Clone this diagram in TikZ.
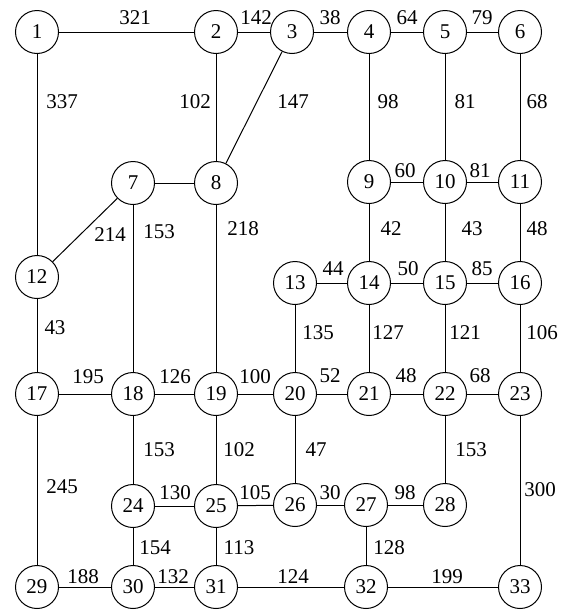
\documentclass[tikz,border=0pt]{standalone}
\usepackage{fontspec}
\setmainfont{Liberation Serif}
\begin{document}
\begin{tikzpicture}[x=1pt,y=-1pt,
  vtx/.style={circle,draw,line width=1pt,minimum size=43pt,inner sep=0pt,fill=white,font=\fontsize{21}{24}\selectfont},
  lab/.style={inner sep=0pt,font=\fontsize{21}{24}\selectfont},
  conn/.style={line width=1pt}]
\fill[white] (0,0) rectangle (568,611);
\useasboundingbox (0,0) rectangle (568,611);
% nodes
\node[vtx] (n1) at (37,32) {1};
\node[vtx] (n2) at (216,32) {2};
\node[vtx] (n3) at (292,32) {3};
\node[vtx] (n4) at (369,32) {4};
\node[vtx] (n5) at (445,32) {5};
\node[vtx] (n6) at (520,32) {6};
\node[vtx] (n7) at (133,183) {7};
\node[vtx] (n8) at (216,183) {8};
\node[vtx] (n9) at (369,182) {9};
\node[vtx] (n10) at (445,182) {10};
\node[vtx] (n11) at (520,182) {11};
\node[vtx] (n12) at (37,277) {12};
\node[vtx] (n13) at (295,283) {13};
\node[vtx] (n14) at (369,283) {14};
\node[vtx] (n15) at (445,283) {15};
\node[vtx] (n16) at (520,283) {16};
\node[vtx] (n17) at (37,394) {17};
\node[vtx] (n18) at (133,394) {18};
\node[vtx] (n19) at (216,394) {19};
\node[vtx] (n20) at (295,394) {20};
\node[vtx] (n21) at (369,394) {21};
\node[vtx] (n22) at (445,394) {22};
\node[vtx] (n23) at (520,394) {23};
\node[vtx] (n24) at (133,506) {24};
\node[vtx] (n25) at (216,506) {25};
\node[vtx] (n26) at (295,505) {26};
\node[vtx] (n27) at (366,505) {27};
\node[vtx] (n28) at (445,505) {28};
\node[vtx] (n29) at (37,587) {29};
\node[vtx] (n30) at (133,587) {30};
\node[vtx] (n31) at (216,587) {31};
\node[vtx] (n32) at (366,587) {32};
\node[vtx] (n33) at (520,587) {33};
% edges
\foreach \a/\b in {1/2,2/3,3/4,4/5,5/6,1/12,2/8,3/8,4/9,5/10,6/11,7/8,7/12,7/18,8/19,
  9/10,10/11,9/14,10/15,11/16,13/14,14/15,15/16,12/17,13/20,14/21,15/22,16/23,
  17/18,18/19,19/20,20/21,21/22,22/23,17/29,18/24,19/25,20/26,22/28,23/33,
  24/25,25/26,26/27,27/28,24/30,25/31,27/32,29/30,30/31,31/32,32/33}
  \draw[conn] (n\a) -- (n\b);
% labels
\node[lab] (l1) at (135,18) {321};
\node[lab] (l2) at (256,18) {142};
\node[lab] (l3) at (330,18) {38};
\node[lab] (l4) at (407,18) {64};
\node[lab] (l5) at (482,18) {79};
\node[lab] (l6) at (62,102) {337};
\node[lab] (l7) at (195,102) {102};
\node[lab] (l8) at (293,102) {147};
\node[lab] (l9) at (388,102) {98};
\node[lab] (l10) at (465,102) {81};
\node[lab] (l11) at (537,102) {68};
\node[lab] (l12) at (405,171) {60};
\node[lab] (l13) at (480,171) {81};
\node[lab] (l14) at (110,235) {214};
\node[lab] (l15) at (159,232) {153};
\node[lab] (l16) at (243,229) {218};
\node[lab] (l17) at (391,229) {42};
\node[lab] (l18) at (472,229) {43};
\node[lab] (l19) at (537,229) {48};
\node[lab] (l20) at (333,269) {44};
\node[lab] (l21) at (408,269) {50};
\node[lab] (l22) at (482,269) {85};
\node[lab] (l23) at (55,328) {43};
\node[lab] (l24) at (318,333) {135};
\node[lab] (l25) at (388,333) {127};
\node[lab] (l26) at (465,333) {121};
\node[lab] (l27) at (542,333) {106};
\node[lab] (l28) at (88,377) {195};
\node[lab] (l29) at (175,377) {126};
\node[lab] (l30) at (255,377) {100};
\node[lab] (l31) at (330,376) {52};
\node[lab] (l32) at (406,376) {48};
\node[lab] (l33) at (480,376) {68};
\node[lab] (l34) at (159,450) {153};
\node[lab] (l35) at (239,450) {102};
\node[lab] (l36) at (316,450) {47};
\node[lab] (l37) at (471,450) {153};
\node[lab] (l38) at (62,487) {245};
\node[lab] (l39) at (540,490) {300};
\node[lab] (l40) at (175,493) {130};
\node[lab] (l41) at (255,493) {105};
\node[lab] (l42) at (330,493) {30};
\node[lab] (l43) at (405,493) {98};
\node[lab] (l44) at (155,548) {154};
\node[lab] (l45) at (239,548) {113};
\node[lab] (l46) at (389,548) {128};
\node[lab] (l47) at (83,577) {188};
\node[lab] (l48) at (173,577) {132};
\node[lab] (l49) at (293,577) {124};
\node[lab] (l50) at (447,577) {199};
\end{tikzpicture}
\end{document}
